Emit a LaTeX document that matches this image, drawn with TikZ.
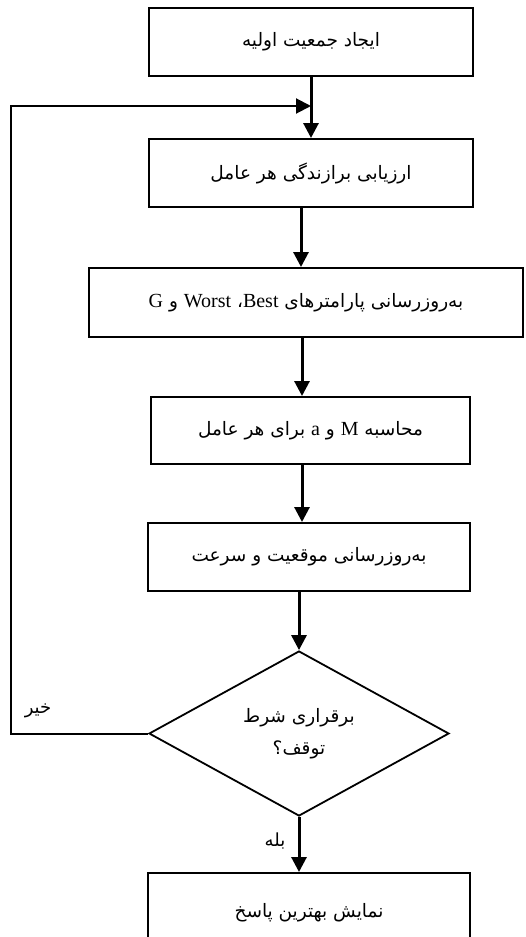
\documentclass[tikz,border=0pt]{standalone}
\usepackage{fontspec}
\setmainfont{Liberation Serif}
\newfontfamily\arabicfont[Script=Arabic]{DejaVu Sans}
\newfontfamily\latinfont{Liberation Serif}
\TeXXeTstate=1
\usetikzlibrary{shapes.geometric,arrows.meta}
\newcommand\latw[1]{{\latinfont\fontsize{20}{22}\selectfont #1}}
\begin{document}
\begin{tikzpicture}[x=1pt,y=-1pt,
  box/.style={draw,line width=2pt,minimum height=68pt,inner sep=0pt,
    font=\arabicfont\fontsize{18.5}{22}\selectfont},
  dec/.style={draw,diamond,line width=1.8pt,inner sep=0pt,
    minimum width=300pt,minimum height=165pt,align=center,
    font=\arabicfont\fontsize{18.5}{32}\selectfont},
  lbl/.style={inner sep=0pt,font=\arabicfont\fontsize{18}{20}\selectfont},
  arr/.style={line width=3pt,-{Triangle[width=15pt,length=15pt]}},
  fb/.style={line width=2pt,-{Triangle[width=15pt,length=15pt]}}]
\useasboundingbox (0,0) rectangle (526,937);
\node[box,minimum width=324pt] (b1) at (311,42) {\beginR ایجاد جمعیت اولیه\endR};
\node[box,minimum width=324pt] (b2) at (311,173) {\beginR ارزیابی برازندگی هر عامل\endR};
\node[box,minimum width=434pt,minimum height=69pt] (b3) at (306,302.5) {\beginR به‌روزرسانی پارامترهای \latw{Best}، \latw{Worst} و \latw{G}\endR};
\node[box,minimum width=319pt,minimum height=67pt] (b4) at (310.5,430.5) {\beginR محاسبه \latw{M} و \latw{a} برای هر عامل\endR};
\node[box,minimum width=322pt] (b5) at (309,557) {\beginR به‌روزرسانی موقعیت و سرعت\endR};
\node[dec] (dia) at (299,733.5) {\beginR برقراری شرط\endR\\\beginR توقف؟\endR};
\node[box,minimum width=322pt,minimum height=80pt] (b6) at (309,913) {\beginR نمایش بهترین پاسخ\endR};
\node[lbl] (no) at (38,711) {\beginR خیر\endR};
\node[lbl] (yes) at (275,841) {\beginR بله\endR};
\coordinate (j) at (311,106);
\coordinate (fbc) at (11,106);
\draw[arr] (b1.south) -- (b2.north);
\draw[arr] ([xshift=-10pt]b2.south) -- ([xshift=-10pt]b2.south |- b3.north);
\draw[arr] ([xshift=-4pt]b3.south) -- ([xshift=-4pt]b3.south |- b4.north);
\draw[arr] ([xshift=-8.5pt]b4.south) -- ([xshift=-8.5pt]b4.south |- b5.north);
\draw[arr] (b5.south -| dia.north) -- (dia.north);
\draw[arr] (dia.south) -- (dia.south |- b6.north);
\draw[fb] (dia.west) -| (fbc) -- (j);
\end{tikzpicture}
\end{document}
